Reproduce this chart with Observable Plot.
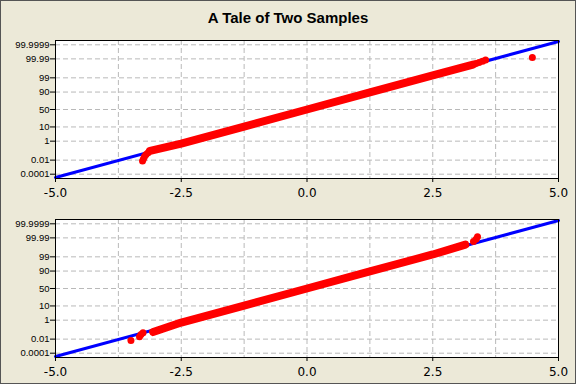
<!DOCTYPE html>
<html>
<head>
<meta charset="utf-8">
<script src="https://cdn.jsdelivr.net/npm/d3@7"></script>
<script src="https://cdn.jsdelivr.net/npm/@observablehq/plot@0.6"></script>
<style>
  html, body { margin: 0; padding: 0; }
  #wrap { position: relative; width: 576px; height: 384px; background: #ECE9D8; overflow: hidden; }
  #border { position: absolute; left: 0; top: 0; width: 576px; height: 384px; box-sizing: border-box; border: 1px solid #555; pointer-events: none; }
  #title { position: absolute; left: 0; top: 10px; width: 576px; text-align: center; font: bold 15px "Liberation Sans", Arial, sans-serif; line-height: 15px; color: #000; }
  .panel { position: absolute; left: 0; }
  .panel svg [aria-label^="x-axis"] text { font: 12px "DejaVu Sans", sans-serif; }
  .panel svg [aria-label^="y-axis"] text { font: 9.5px "Liberation Sans", Arial, sans-serif; }
</style>
</head>
<body>
<div id="wrap">
  <div id="title">A Tale of Two Samples</div>
  <div class="panel" id="p1" style="top:30px"></div>
  <div class="panel" id="p2" style="top:209px"></div>
  <div id="border"></div>
</div>
<script>
// ---- axis definitions ----
const xTicks = [-5, -2.5, 0, 2.5, 5];
const xGrid = [-3.75, -2.5, -1.25, 0, 1.25, 2.5, 3.75];
const yTickPct = [0.0001, 0.01, 1, 10, 50, 90, 99, 99.99, 99.9999];
const yTickLabels = ["0.0001", "0.01", "1", "10", "50", "90", "99", "99.99", "99.9999"];

// ---- fitted normal line (percent) ----
const fitX = [-5, 5];
const fitPct = [0.00002867, 99.99997133];

// ---- sample 1 (top): dense band and separate points ----
const s1BandX = [-3.12, -2.5, -1.25, 0, 1.25, 2.5, 3.30];
const s1BandPct = [0.118, 0.621, 10.56, 50, 89.44, 99.379, 99.9517];
const s1DotX = [-3.27, -3.25, -3.23, -3.20, -3.16, 3.36, 3.42, 3.49, 3.55, 4.48];
const s1DotPct = [0.00784, 0.0147, 0.0280, 0.0483, 0.0762, 99.9638, 99.9730, 99.9800, 99.9858, 99.99333];

// ---- sample 2 (bottom) ----
const s2BandX = [-3.06, -2.5, -1.25, 0, 1.25, 2.5, 3.15];
const s2BandPct = [0.0687, 0.621, 10.56, 50, 89.44, 99.379, 99.9359];
const s2DotX = [-3.50, -3.33, -3.30, -3.26, 3.31, 3.36, 3.39];
const s2DotPct = [0.00667, 0.01926, 0.0362, 0.0577, 99.973, 99.9853, 99.9928];

// inverse standard normal CDF (Acklam) for the probability axis
function probit(p) {
  const a = [-3.969683028665376e+01, 2.209460984245205e+02, -2.759285104469687e+02, 1.383577518672690e+02, -3.066479806614716e+01, 2.506628277459239e+00];
  const b = [-5.447609879822406e+01, 1.615858368580409e+02, -1.556989798598866e+02, 6.680131188771972e+01, -1.328068155288572e+01];
  const c = [-7.784894002430293e-03, -3.223964580411365e-01, -2.400758277161838e+00, -2.549732539343734e+00, 4.374664141464968e+00, 2.938163982698783e+00];
  const d = [7.784695709041462e-03, 3.224671290700398e-01, 2.445134137142996e+00, 3.754408661907416e+00];
  const pl = 0.02425, ph = 1 - pl;
  if (p < pl) {
    const q = Math.sqrt(-2 * Math.log(p));
    return (((((c[0]*q+c[1])*q+c[2])*q+c[3])*q+c[4])*q+c[5]) / ((((d[0]*q+d[1])*q+d[2])*q+d[3])*q+1);
  }
  if (p <= ph) {
    const q = p - 0.5, r = q * q;
    return (((((a[0]*r+a[1])*r+a[2])*r+a[3])*r+a[4])*r+a[5])*q / (((((b[0]*r+b[1])*r+b[2])*r+b[3])*r+b[4])*r+1);
  }
  const q = Math.sqrt(-2 * Math.log(1 - p));
  return -(((((c[0]*q+c[1])*q+c[2])*q+c[3])*q+c[4])*q+c[5]) / ((((d[0]*q+d[1])*q+d[2])*q+d[3])*q+1);
}
const z = pct => probit(pct / 100);
const yTickZ = yTickPct.map(z);
const labelByZ = new Map(yTickZ.map((v, i) => [v, yTickLabels[i]]));

function toRows(xs, ps) { return xs.map((x, i) => ({x, y: z(ps[i])})); }

function panel(bandX, bandPct, dotX, dotPct) {
  const fit = toRows(fitX, fitPct);
  const band = toRows(bandX, bandPct);
  const dots = toRows(dotX, dotPct);
  return Plot.plot({
    width: 576,
    height: 170,
    marginTop: 10,
    marginBottom: 22,
    marginLeft: 55,
    marginRight: 18,
    style: {background: "transparent", color: "#000"},
    x: {domain: [-5, 5], ticks: xTicks, tickFormat: d => d.toFixed(1), tickSize: 4, tickPadding: 6, label: null},
    y: {domain: [-5.07, 5.07], ticks: yTickZ, tickFormat: d => labelByZ.get(d), tickSize: 5, tickPadding: 1, label: null},
    marks: [
      Plot.frame({fill: "white", stroke: "none"}),
      Plot.ruleX(xGrid, {stroke: "#b9b9b9", strokeDasharray: "5,3"}),
      Plot.ruleY(yTickZ, {stroke: "#b9b9b9", strokeDasharray: "5,3"}),
      Plot.line(fit, {x: "x", y: "y", stroke: "#0000ff", strokeWidth: 3}),
      Plot.line(band, {x: "x", y: "y", stroke: "#ff0000", strokeWidth: 8, strokeLinecap: "round", strokeLinejoin: "round"}),
      Plot.dot(dots, {x: "x", y: "y", r: 3.5, fill: "#ff0000", stroke: "none"}),
      Plot.frame({stroke: "#000", fill: "none"})
    ]
  });
}

document.getElementById("p1").appendChild(panel(s1BandX, s1BandPct, s1DotX, s1DotPct));
document.getElementById("p2").appendChild(panel(s2BandX, s2BandPct, s2DotX, s2DotPct));
</script>
</body>
</html>
